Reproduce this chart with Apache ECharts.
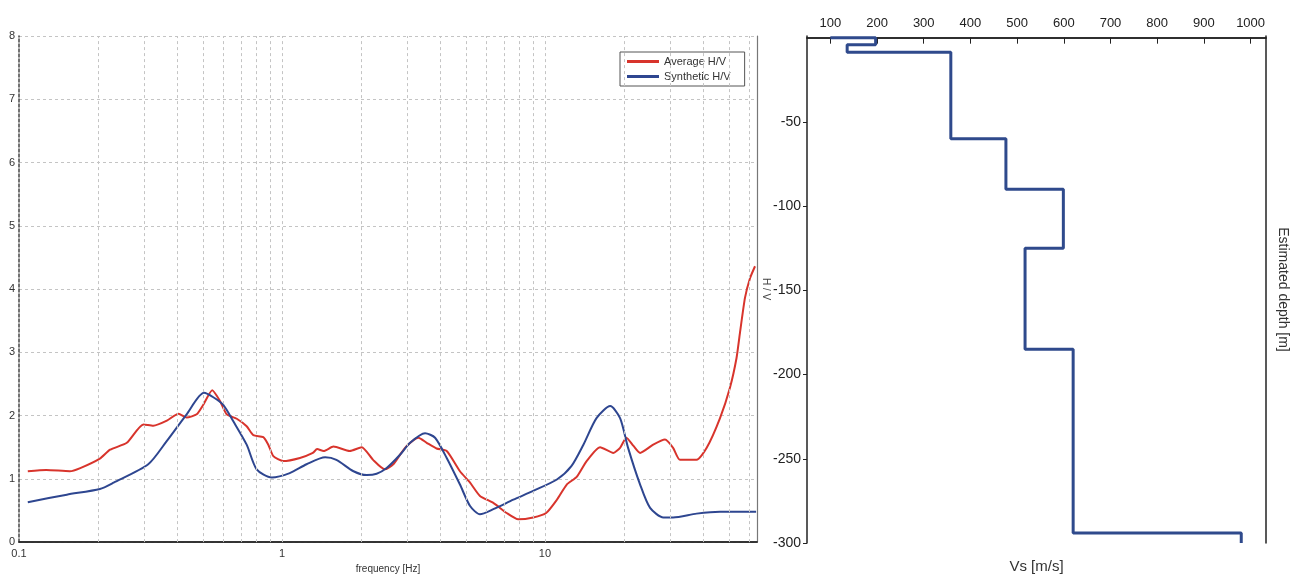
<!DOCTYPE html>
<html>
<head>
<meta charset="utf-8">
<script src="https://cdn.jsdelivr.net/npm/echarts@6/dist/echarts.min.js"></script>
<style>
  html, body { margin: 0; padding: 0; background: #fff; }
  #chart { width: 1301px; height: 579px; }
</style>
</head>
<body>
<div id="chart"></div>
<script>
// H/V spectral ratio: measured average and synthetic model curve
const avgFreq = [0.108, 0.127, 0.156, 0.171, 0.203, 0.222, 0.257, 0.297, 0.324, 0.365, 0.404, 0.434, 0.474, 0.502, 0.543, 0.581, 0.616, 0.673, 0.734, 0.778, 0.849, 0.887, 0.927, 1.01, 1.17, 1.31, 1.36, 1.44, 1.57, 1.81, 2.01, 2.22, 2.46, 2.65, 2.81, 2.98, 3.30, 3.55, 3.87, 4.23, 4.75, 5.19, 5.66, 6.36, 7.15, 7.91, 9.02, 10.1, 11.1, 12.1, 13.2, 14.4, 16.2, 18.2, 19.3, 20.4, 21.7, 23.0, 25.8, 28.6, 30.7, 32.6, 37.7, 41.2, 46.3, 50.5, 53.5, 55.1, 57.6, 60.2, 62.9];
const avgHV = [1.12, 1.14, 1.12, 1.17, 1.32, 1.46, 1.57, 1.86, 1.84, 1.92, 2.03, 1.97, 2.02, 2.17, 2.40, 2.23, 2.02, 1.95, 1.83, 1.69, 1.66, 1.54, 1.36, 1.28, 1.33, 1.41, 1.47, 1.44, 1.51, 1.44, 1.50, 1.30, 1.15, 1.23, 1.38, 1.52, 1.65, 1.57, 1.48, 1.44, 1.12, 0.94, 0.73, 0.62, 0.46, 0.36, 0.39, 0.46, 0.67, 0.91, 1.03, 1.28, 1.50, 1.41, 1.49, 1.65, 1.52, 1.41, 1.54, 1.62, 1.49, 1.30, 1.30, 1.49, 1.96, 2.44, 2.91, 3.30, 3.86, 4.17, 4.36];

const synFreq = [0.108, 0.152, 0.203, 0.229, 0.310, 0.365, 0.434, 0.505, 0.548, 0.598, 0.653, 0.734, 0.801, 0.914, 1.07, 1.24, 1.46, 1.61, 1.87, 2.10, 2.29, 2.50, 2.81, 3.07, 3.50, 3.82, 4.23, 4.75, 5.19, 5.66, 6.36, 7.58, 9.02, 11.1, 12.6, 14.0, 15.7, 17.7, 19.3, 20.7, 23.0, 25.1, 28.2, 30.7, 37.7, 46.3, 63.5];
const synHV = [0.63, 0.75, 0.84, 0.94, 1.23, 1.60, 2.02, 2.36, 2.29, 2.17, 1.91, 1.54, 1.15, 1.02, 1.09, 1.23, 1.34, 1.30, 1.12, 1.06, 1.08, 1.17, 1.38, 1.57, 1.72, 1.65, 1.33, 0.91, 0.57, 0.44, 0.52, 0.67, 0.81, 0.99, 1.20, 1.54, 1.96, 2.15, 1.96, 1.49, 0.91, 0.54, 0.39, 0.39, 0.45, 0.48, 0.48];

// Frequency grid lines (log decades with their 2..9 subdivisions)
const freqGrid = [0.2, 0.3, 0.4, 0.5, 0.6, 0.7, 0.8, 0.9, 1, 2, 3, 4, 5, 6, 7, 8, 9, 10, 20, 30, 40, 50, 60];

// Shear-wave velocity profile: surface value, then each layer's Vs and bottom depth
const surfaceVs = 100;
const layerVs = [197, 136, 358, 476, 599, 517, 620, 980];
const layerBottom = [-4.2, -8.7, -60, -90, -125, -185, -294, -300];

// Tick labels
const vsTicks = [100, 200, 300, 400, 500, 600, 700, 800, 900, 1000];
const depthTicks = [-50, -100, -150, -200, -250, -300];

const avgData = avgFreq.map((f, i) => [f, avgHV[i]]);
const synData = synFreq.map((f, i) => [f, synHV[i]]);

const profile = [[surfaceVs, 0]];
let layerTop = 0;
layerVs.forEach((vs, i) => {
  profile.push([vs, layerTop]);
  profile.push([vs, layerBottom[i]]);
  layerTop = layerBottom[i];
});

const FONT = "'Liberation Sans', Arial, sans-serif";
const NARROW = "'Liberation Sans Narrow', 'Liberation Sans', Arial, sans-serif";
const gridDash = { color: '#c4c4c4', type: [3, 3], width: 1 };
const plainNumber = v => String(v);

const chart = echarts.init(document.getElementById('chart'), null, { renderer: 'canvas' });
chart.setOption({
  animation: false,
  backgroundColor: '#fff',
  textStyle: { fontFamily: FONT },
  legend: {
    data: ['Average H/V', 'Synthetic H/V'],
    orient: 'vertical',
    left: 620, top: 52,
    icon: 'rect',
    itemWidth: 32, itemHeight: 3, itemGap: 4,
    padding: [4, 14, 4, 7],
    borderColor: '#555', borderWidth: 1,
    backgroundColor: '#fff',
    textStyle: { fontSize: 11, color: '#333', fontFamily: FONT }
  },
  grid: [
    { left: 19, top: 36, width: 738, height: 508 },
    { left: 807, top: 36, width: 459, height: 509 }
  ],
  xAxis: [
    {
      gridIndex: 0, type: 'log', logBase: 10, min: 0.1, max: 64, position: 'bottom',
      name: 'frequency [Hz]', nameLocation: 'middle', nameGap: 13,
      nameTextStyle: { fontSize: 10, color: '#333' },
      axisLine: { lineStyle: { color: '#444', width: 1.5 } },
      axisTick: { show: false },
      axisLabel: { fontSize: 11, color: '#333', margin: 6, showMaxLabel: false, formatter: plainNumber },
      splitLine: { show: false }
    },
    {
      gridIndex: 0, type: 'log', logBase: 10, min: 0.1, max: 64, position: 'top',
      axisLine: { show: true, lineStyle: { color: '#222', width: 1.5 } },
      axisTick: { show: false }, axisLabel: { show: false }, splitLine: { show: false }
    },
    {
      gridIndex: 1, type: 'value', min: 50, max: 1033, position: 'top',
      axisLine: { lineStyle: { color: '#222', width: 1.5 } },
      axisTick: { inside: true, length: 6, customValues: vsTicks, lineStyle: { color: '#222' } },
      axisLabel: { customValues: vsTicks, formatter: plainNumber, fontSize: 13, color: '#222', margin: 6, fontFamily: NARROW },
      splitLine: { show: false }
    },
    {
      gridIndex: 1, type: 'value', min: 50, max: 1033, position: 'bottom',
      name: 'Vs [m/s]', nameLocation: 'middle', nameGap: 16,
      nameTextStyle: { fontSize: 15, color: '#333' },
      axisLine: { lineStyle: { color: '#222', width: 1.5 } },
      axisTick: { show: false }, axisLabel: { show: false }, splitLine: { show: false }
    }
  ],
  yAxis: [
    {
      gridIndex: 0, type: 'value', min: 0, max: 8, interval: 1, position: 'left',
      axisLine: { show: true, lineStyle: { color: '#444', width: 1.5, type: [3, 2] } },
      axisTick: { show: false },
      axisLabel: { fontSize: 11, color: '#333', margin: 4 },
      splitLine: { show: true, lineStyle: gridDash }
    },
    {
      gridIndex: 0, type: 'value', min: 0, max: 8, position: 'right',
      name: 'H / V', nameLocation: 'middle', nameRotate: -90, nameGap: 4,
      nameTextStyle: { fontSize: 10, color: '#444' },
      axisLine: { show: true, lineStyle: { color: '#777', width: 1.2 } },
      axisTick: { show: false }, axisLabel: { show: false }, splitLine: { show: false }
    },
    {
      gridIndex: 1, type: 'value', min: -300, max: 1, position: 'left',
      axisLine: { show: true, lineStyle: { color: '#222', width: 1.5 } },
      axisTick: { show: true, length: 4, customValues: depthTicks, lineStyle: { color: '#222' } },
      axisLabel: { customValues: depthTicks, formatter: plainNumber, fontSize: 14, color: '#222', margin: 6, fontFamily: NARROW },
      splitLine: { show: false }
    },
    {
      gridIndex: 1, type: 'value', min: -300, max: 1, position: 'right',
      name: 'Estimated depth [m]', nameLocation: 'middle', nameRotate: -90, nameGap: 10,
      nameTextStyle: { fontSize: 14, color: '#333' },
      axisLine: { show: true, lineStyle: { color: '#222', width: 1.5 } },
      axisTick: { show: false }, axisLabel: { show: false }, splitLine: { show: false }
    }
  ],
  series: [
    {
      name: 'freq-grid', type: 'line', xAxisIndex: 0, yAxisIndex: 0, data: [], z: 1,
      markLine: {
        silent: true, symbol: ['none', 'none'], label: { show: false },
        lineStyle: gridDash,
        data: freqGrid.map(f => ({ xAxis: f }))
      }
    },
    {
      name: 'Average H/V', type: 'line', xAxisIndex: 0, yAxisIndex: 0,
      data: avgData, showSymbol: false, smooth: 0.2, z: 3,
      lineStyle: { color: '#d8342c', width: 2 }, itemStyle: { color: '#d8342c' }
    },
    {
      name: 'Synthetic H/V', type: 'line', xAxisIndex: 0, yAxisIndex: 0,
      data: synData, showSymbol: false, smooth: 0.25, z: 4,
      lineStyle: { color: '#2e4690', width: 2 }, itemStyle: { color: '#2e4690' }
    },
    {
      name: 'Vs profile', type: 'line', xAxisIndex: 2, yAxisIndex: 2,
      data: profile, showSymbol: false, z: 3,
      lineStyle: { color: '#2f4a8c', width: 3 }, itemStyle: { color: '#2f4a8c' }
    }
  ]
});
</script>
</body>
</html>
